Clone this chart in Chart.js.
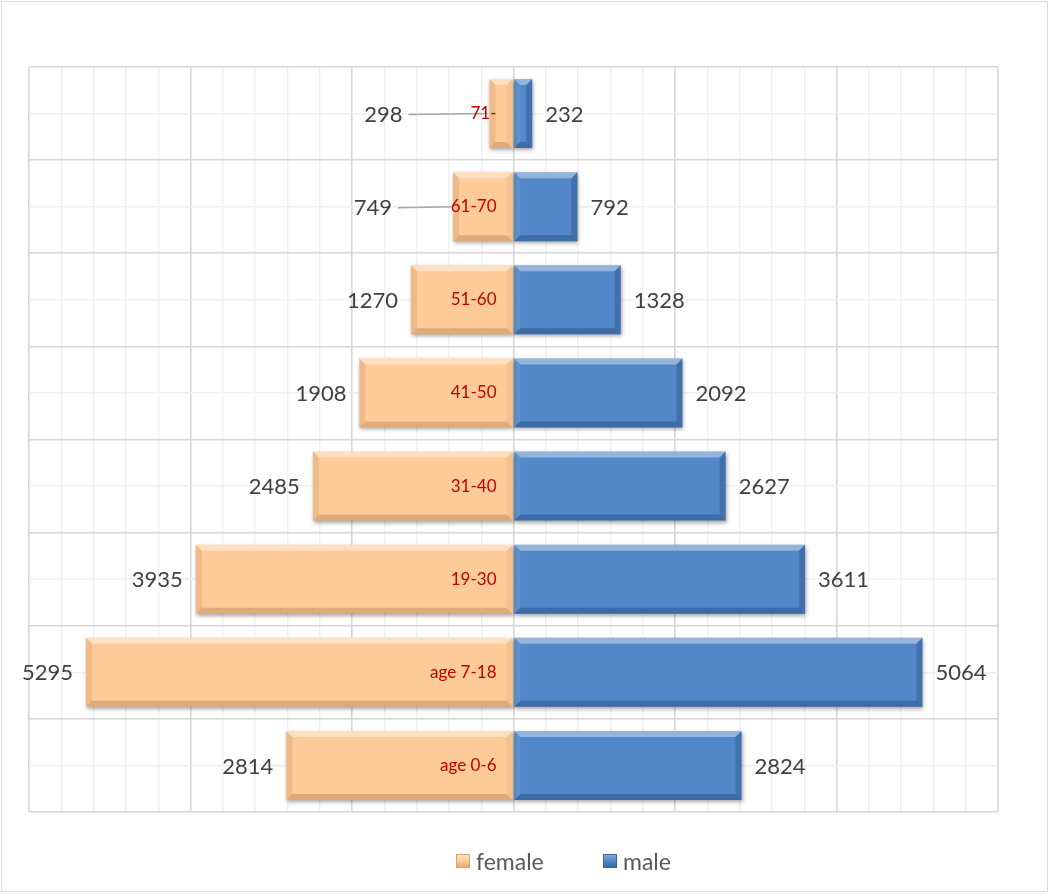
<!DOCTYPE html>
<html>
<head>
<meta charset="utf-8">
<script src="https://cdn.jsdelivr.net/npm/chart.js@4/dist/chart.umd.min.js"></script>
<style>
  html, body { margin: 0; padding: 0; background: #fff; }
  #wrap { position: relative; width: 1050px; height: 894px; }
  #frame { position: absolute; left: 1px; top: 1px; width: 1045px; height: 889px; border: 1px solid #d9d9d9; pointer-events: none; }
  canvas { position: absolute; left: 0; top: 0; }
  .leg { position: absolute; top: 847px; height: 28px; display: flex; align-items: center; font-family: Lato, "Open Sans", sans-serif; font-size: 23px; color: #595959; }
  .mk { width: 14px; height: 14px; margin-right: 6px; box-sizing: border-box; }
  .mk.f { background: linear-gradient(180deg, #ffe2c3 0%, #fecb98 50%, #e8a874 100%); border: 1px solid #dfa46e; }
  .mk.m { background: linear-gradient(180deg, #7eaae0 0%, #5288c9 50%, #3a6aa6 100%); border: 1px solid #36639c; }
</style>
</head>
<body>
<div id="wrap">
  <canvas id="c" width="1050" height="894"></canvas>
  <div id="frame"></div>
  <div class="leg" style="left:456px"><div class="mk f"></div><span id="lf"></span></div>
  <div class="leg" style="left:603px"><div class="mk m"></div><span id="lm"></span></div>
</div>
<script>
// ---- data ----
const categories = ['71-', '61-70', '51-60', '41-50', '31-40', '19-30', 'age 7-18', 'age 0-6'];
const femaleValues = [298, 749, 1270, 1908, 2485, 3935, 5295, 2814];
const maleValues = [232, 792, 1328, 2092, 2627, 3611, 5064, 2824];
const seriesNames = ['female', 'male'];

document.getElementById('lf').textContent = seriesNames[0];
document.getElementById('lm').textContent = seriesNames[1];

const FEMALE = '#fecb98';
const MALE = '#5288c9';

// leader-line shifts for crowded small female labels (index -> extra px to the left)
const leaderShift = { 0: 74, 1: 48 };

const bevelPlugin = {
  id: 'bevel',
  beforeDatasetDraw(chart) {
    const ctx = chart.ctx;
    ctx.save();
    ctx.shadowColor = 'rgba(0,0,0,0.35)';
    ctx.shadowBlur = 4;
    ctx.shadowOffsetX = 1;
    ctx.shadowOffsetY = 2;
  },
  afterDatasetDraw(chart, args) {
    const ctx = chart.ctx;
    ctx.restore();
    const meta = args.meta;
    meta.data.forEach((el) => {
      const l = Math.min(el.x, el.base), r = Math.max(el.x, el.base);
      const t = el.y - el.height / 2, b = el.y + el.height / 2;
      const bw = Math.min(6, (r - l) / 2);
      ctx.save();
      ctx.fillStyle = 'rgba(255,255,255,0.38)';
      ctx.beginPath(); ctx.moveTo(l, t); ctx.lineTo(r, t); ctx.lineTo(r - bw, t + bw); ctx.lineTo(l + bw, t + bw); ctx.closePath(); ctx.fill();
      ctx.fillStyle = 'rgba(90,40,0,0.2)';
      if (args.index === 1) ctx.fillStyle = 'rgba(0,20,60,0.25)';
      ctx.beginPath(); ctx.moveTo(l, b); ctx.lineTo(r, b); ctx.lineTo(r - bw, b - bw); ctx.lineTo(l + bw, b - bw); ctx.closePath(); ctx.fill();
      ctx.fillStyle = 'rgba(90,40,0,0.1)';
      if (args.index === 1) ctx.fillStyle = 'rgba(255,255,255,0.08)';
      ctx.beginPath(); ctx.moveTo(l, t); ctx.lineTo(l + bw, t + bw); ctx.lineTo(l + bw, b - bw); ctx.lineTo(l, b); ctx.closePath(); ctx.fill();
      ctx.fillStyle = 'rgba(0,20,60,0.2)';
      if (args.index === 0) ctx.fillStyle = 'rgba(90,40,0,0.06)';
      ctx.beginPath(); ctx.moveTo(r, t); ctx.lineTo(r - bw, t + bw); ctx.lineTo(r - bw, b - bw); ctx.lineTo(r, b); ctx.closePath(); ctx.fill();
      ctx.restore();
    });
  }
};

const labelPlugin = {
  id: 'labels',
  afterDatasetsDraw(chart) {
    const ctx = chart.ctx;
    const xs = chart.scales.x;
    const zero = xs.getPixelForValue(0);
    ctx.save();
    ctx.textBaseline = 'middle';
    chart.data.datasets.forEach((ds, di) => {
      const meta = chart.getDatasetMeta(di);
      meta.data.forEach((el, i) => {
        const v = Math.abs(ds.data[i]);
        ctx.font = '22px Lato, "Open Sans", sans-serif';
        ctx.fillStyle = '#404040';
        if (di === 0) {
          const shift = leaderShift[i] || 0;
          const xEnd = el.x - 13 - shift;
          if (shift) {
            ctx.strokeStyle = '#a6a6a6';
            ctx.lineWidth = 1.5;
            ctx.beginPath();
            ctx.moveTo(xEnd + 6, el.y + 1);
            ctx.lineTo(el.x - 2, el.y);
            ctx.stroke();
          }
          ctx.textAlign = 'right';
          ctx.fillText(String(v), xEnd, el.y + 1);
        } else {
          ctx.textAlign = 'left';
          ctx.fillText(String(v), el.x + 13, el.y + 1);
        }
      });
    });
    const meta0 = chart.getDatasetMeta(0);
    ctx.font = '17px Lato, "Open Sans", sans-serif';
    ctx.fillStyle = '#c00000';
    ctx.textAlign = 'right';
    meta0.data.forEach((el, i) => {
      ctx.fillText(chart.data.labels[i], zero - 17, el.y);
    });
    ctx.restore();
  }
};

new Chart(document.getElementById('c'), {
  type: 'bar',
  data: {
    labels: categories,
    datasets: [
      {
        label: seriesNames[0],
        data: femaleValues.map(v => -v),
        backgroundColor: FEMALE,
        borderWidth: 0,
        barPercentage: 0.74,
        categoryPercentage: 1
      },
      {
        label: seriesNames[1],
        data: maleValues,
        backgroundColor: MALE,
        borderWidth: 0,
        barPercentage: 0.74,
        categoryPercentage: 1
      }
    ]
  },
  options: {
    indexAxis: 'y',
    responsive: false,
    animation: false,
    layout: { padding: { left: 29, right: 52, top: 67, bottom: 82 } },
    plugins: {
      legend: { display: false },
      tooltip: { enabled: false }
    },
    scales: {
      x: {
        min: -6000,
        max: 6000,
        ticks: { display: false, stepSize: 400 },
        border: { display: false },
        grid: {
          drawTicks: false,
          color: (c) => (c.tick && Math.round(c.tick.value) % 2000 === 0) ? '#d6d6d6' : '#efefef',
          lineWidth: (c) => (c.tick && Math.round(c.tick.value) % 2000 === 0) ? 1.6 : 1.4
        }
      },
      y: {
        stacked: true,
        offset: true,
        ticks: { display: false },
        border: { display: false },
        grid: { offset: true, drawTicks: false, color: '#d6d6d6', lineWidth: 1.6 }
      },
      y2: {
        type: 'category',
        labels: categories,
        offset: true,
        ticks: { display: false },
        border: { display: false },
        grid: { offset: false, drawTicks: false, color: '#efefef', lineWidth: 1.4 }
      }
    }
  },
  plugins: [bevelPlugin, labelPlugin]
});
</script>
</body>
</html>
